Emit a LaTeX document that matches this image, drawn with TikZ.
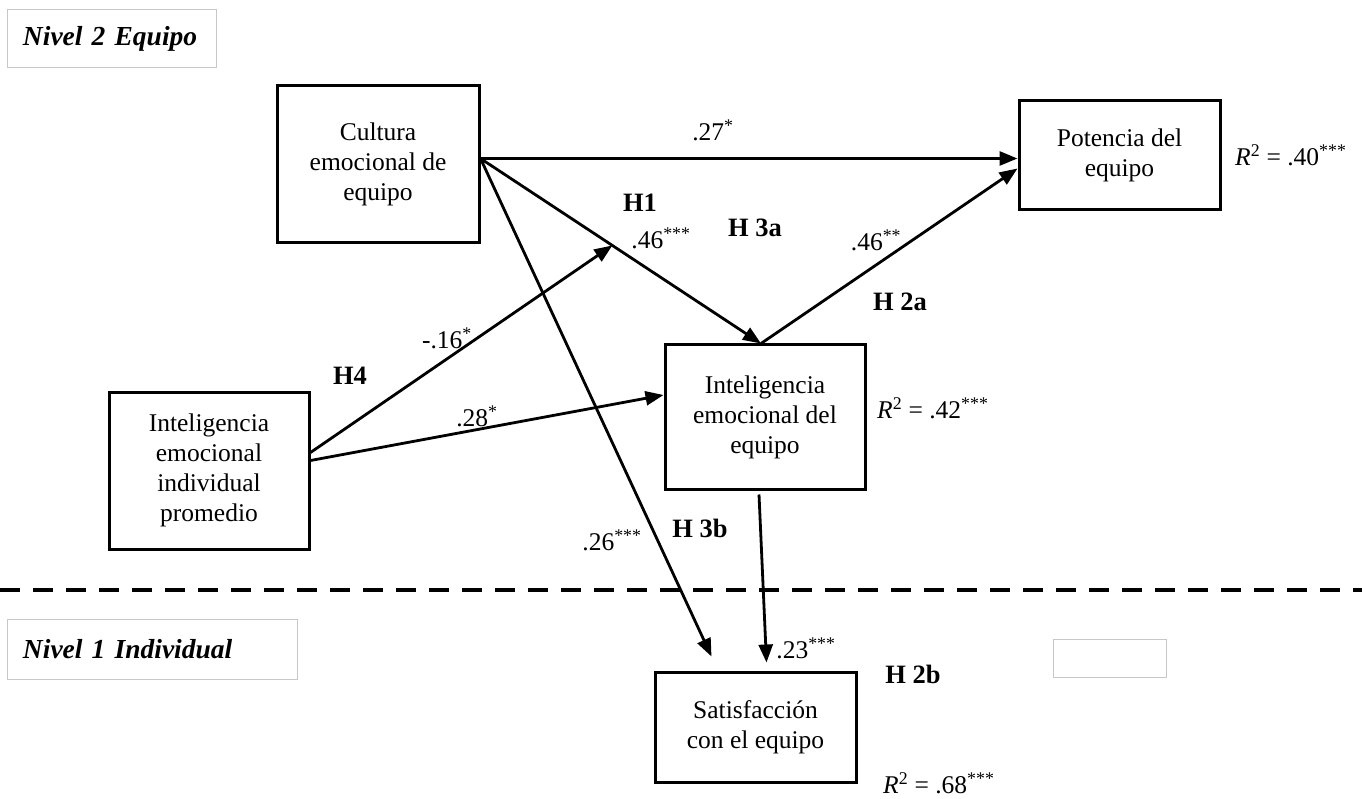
\documentclass[tikz,border=0pt]{standalone}
\usepackage{fontspec}
\setmainfont{Liberation Serif}
\usetikzlibrary{arrows.meta}

\begin{document}
\begin{tikzpicture}[x=1pt,y=-1pt,font=\fontsize{25.5}{30}\selectfont,
 box/.style={draw,line width=3pt,align=center,inner sep=0pt},
 lvl/.style={draw=black!22,line width=1pt,font=\fontsize{27.5}{30}\selectfont\bfseries\itshape,align=left,inner xsep=16pt,inner ysep=0pt},
 hyp/.style={font=\fontsize{26.5}{30}\selectfont\bfseries,inner sep=0pt},
 coef/.style={inner sep=0pt},
 arr/.style={line width=2.8pt,-{Triangle[length=18pt,width=14pt]}}]
\useasboundingbox (0,0) rectangle (1362,799);
\node[lvl,text width=177pt,minimum height=58pt] (n2) at (111.5,39) {Nivel 2 Equipo};
\node[lvl,text width=258pt,minimum height=60pt] (n1) at (152,649) {Nivel 1 Individual};
\node[draw=black!22,line width=1pt,minimum width=113pt,minimum height=38pt] (blank) at (1109.5,658) {};
\draw[line width=4pt,dash pattern=on 20pt off 13pt] (0,590) -- (1362,590);

\node[box,minimum width=202pt,minimum height=157pt] (cul) at (378,164.5) {Cultura\\emocional de\\equipo};
\node[box,minimum width=201pt,minimum height=109pt] (pot) at (1119.5,155.5) {Potencia del\\equipo};
\node[box,minimum width=200pt,minimum height=157pt] (iei) at (209,470.5) {Inteligencia\\emocional\\individual\\promedio};
\node[box,minimum width=200pt,minimum height=144pt] (ieq) at (765,417) {Inteligencia\\emocional del\\equipo};
\node[box,minimum width=201pt,minimum height=110pt] (sat) at (755.5,727) {Satisfacción\\con el equipo};

\path ([yshift=6pt]cul.east) -- ([xshift=-4pt]ieq.north) coordinate[pos=0.47] (mod);
\draw[arr] ([yshift=6pt]cul.east) -- ([yshift=6pt]cul.east -| pot.west);
\draw[arr] ([yshift=6pt]cul.east) -- ([xshift=-4pt]ieq.north);
\draw[arr] ([yshift=6pt]cul.east) -- ([xshift=-44pt,yshift=14pt]sat.north);
\draw[arr] ([yshift=18pt]iei.east) -- (mod);
\draw[arr] ([yshift=10pt]iei.east) -- ([yshift=22pt]ieq.west);
\draw[arr] ([xshift=-4pt]ieq.north) -- ([yshift=-13pt]pot.west);
\draw[arr] ([xshift=-6pt,yshift=-4pt]ieq.south) -- ([xshift=11pt,yshift=8pt]sat.north);

\node[coef] (c27) at (713,130) {.27\textsuperscript{*}};
\node[hyp] (h1) at (640,203) {H1};
\node[coef] (c46a) at (661,238) {.46\textsuperscript{***}};
\node[hyp] (h3a) at (755,228) {H 3a};
\node[coef] (c46b) at (876,240) {.46\textsuperscript{**}};
\node[hyp] (h2a) at (900,302) {H 2a};
\node[coef] (c16) at (447,338) {-.16\textsuperscript{*}};
\node[hyp] (h4) at (350,376) {H4};
\node[coef] (c28) at (477,416) {.28\textsuperscript{*}};
\node[coef] (c26) at (612,540) {.26\textsuperscript{***}};
\node[hyp] (h3b) at (700,528) {H 3b};
\node[coef] (c23) at (806,648) {.23\textsuperscript{***}};
\node[hyp] (h2b) at (913,674) {H 2b};
\node[coef,anchor=west] (r40) at (1235,155) {\textit{R}\textsuperscript{2} = .40\textsuperscript{***}};
\node[coef,anchor=west] (r42) at (877,408) {\textit{R}\textsuperscript{2} = .42\textsuperscript{***}};
\node[coef,anchor=west] (r68) at (883,783) {\textit{R}\textsuperscript{2} = .68\textsuperscript{***}};
\end{tikzpicture}
\end{document}
